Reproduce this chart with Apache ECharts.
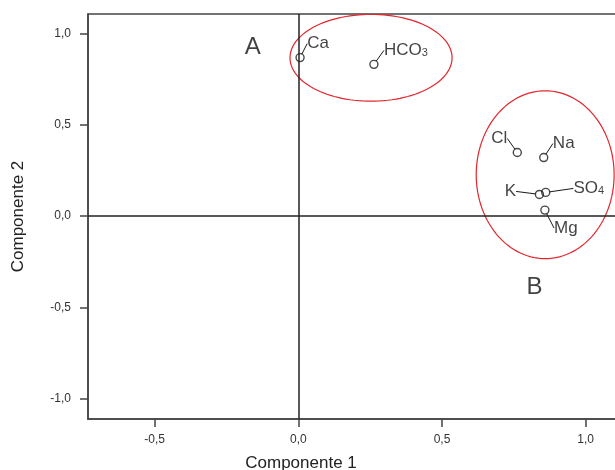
<!DOCTYPE html>
<html>
<head>
<meta charset="utf-8">
<script src="https://cdn.jsdelivr.net/npm/echarts@6/dist/echarts.min.js"></script>
<style>html,body{margin:0;padding:0;background:#fff;}#c{width:615px;height:470px;}</style>
</head>
<body>
<div id="c"></div>
<script>
// ---- data ----
const categories = ['Ca', 'HCO3', 'Cl', 'Na', 'K', 'SO4', 'Mg'];
const comp1 = [0.006, 0.263, 0.762, 0.854, 0.839, 0.861, 0.858];
const comp2 = [0.869, 0.832, 0.349, 0.321, 0.119, 0.130, 0.033];
const xTicks = [-0.5, 0.0, 0.5, 1.0];
const yTicks = [-1.0, -0.5, 0.0, 0.5, 1.0];
const groupNames = ['A', 'B'];
const groupX = [-0.159, 0.822];
const groupY = [0.925, -0.389];
const ellipseCx = [0.253, 0.859];
const ellipseCy = [0.868, 0.227];
const ellipseRx = [0.282, 0.240];
const ellipseRy = [0.238, 0.460];

// ---- layout (pixel offsets of labels) ----
const labelOffsets = {
  Ca: [18, -14], HCO3: [32, -14], Cl: [-18, -14], Na: [20, -14],
  K: [-29, -3], SO4: [43, -4], Mg: [21, 18]
};

const FONT = '"Liberation Sans", Arial, Helvetica, sans-serif';
const fmt = v => (Math.abs(v) < 1e-9 ? '0,0' : v.toFixed(1).replace('.', ','));
const richName = n => {
  if (n === 'HCO3') return '{m|HCO}{s|3}';
  if (n === 'SO4') return '{m|SO}{s|4}';
  return '{m|' + n + '}';
};

const chart = echarts.init(document.getElementById('c'));
const axisColor = '#444';
chart.setOption({
  animation: false,
  backgroundColor: '#fff',
  textStyle: { fontFamily: FONT },
  grid: { left: 88, top: 14, right: -2, bottom: 51, show: true, borderColor: axisColor, borderWidth: 1.5, containLabel: false, outerBoundsMode: 'none' },
  xAxis: {
    type: 'value', min: -0.732, max: 1.109,
    name: 'Componente 1', nameLocation: 'middle', nameGap: 36,
    nameTextStyle: { fontSize: 17, color: '#222', fontFamily: FONT, padding: [0, 103, 0, 0] },
    axisLine: { show: true, onZero: false, lineStyle: { color: axisColor, width: 1.5 } },
    axisTick: { show: true, inside: false, length: 8, customValues: xTicks, lineStyle: { color: axisColor, width: 1.5 } },
    axisLabel: { customValues: xTicks, formatter: fmt, fontSize: 12, color: '#333', margin: 15, fontFamily: FONT },
    splitLine: { show: false }
  },
  yAxis: {
    type: 'value', min: -1.112, max: 1.108,
    name: 'Componente 2', nameLocation: 'middle', nameGap: 61,
    nameTextStyle: { fontSize: 17, color: '#222', fontFamily: FONT },
    axisLine: { show: true, onZero: false, lineStyle: { color: axisColor, width: 1.5 } },
    axisTick: { show: true, inside: false, length: 8, customValues: yTicks, lineStyle: { color: axisColor, width: 1.5 } },
    axisLabel: { customValues: yTicks, formatter: fmt, fontSize: 12, color: '#333', margin: 17, fontFamily: FONT },
    splitLine: { show: false }
  },
  series: [
    {
      type: 'custom',
      silent: true,
      clip: true,
      data: ellipseCx.map((cx, i) => [cx, ellipseCy[i], ellipseRx[i], ellipseRy[i]]),
      renderItem: function (params, api) {
        const cx = api.value(0), cy = api.value(1), rx = api.value(2), ry = api.value(3);
        const pts = [];
        for (let k = 0; k <= 120; k++) {
          const t = k / 120 * Math.PI * 2;
          pts.push(api.coord([cx + rx * Math.cos(t), cy + ry * Math.sin(t)]));
        }
        return { type: 'polyline', shape: { points: pts }, style: { stroke: '#e3262c', lineWidth: 1.2, fill: null } };
      },
      z: 1
    },
    {
      type: 'scatter',
      silent: true,
      symbolSize: 0,
      data: groupNames.map((n, i) => ({ name: n, value: [groupX[i], groupY[i]] })),
      label: { show: true, position: 'inside', formatter: p => p.name, fontSize: 24, color: '#111', fontFamily: FONT },
      z: 2
    },
    {
      type: 'scatter',
      symbol: 'circle',
      symbolSize: 8,
      itemStyle: { color: 'rgba(255,255,255,0)', borderColor: '#1a1a1a', borderWidth: 1.4 },
      data: categories.map((n, i) => ({ name: n, value: [comp1[i], comp2[i]] })),
      label: {
        show: true, position: 'inside', formatter: p => richName(p.name),
        color: '#111', fontFamily: FONT,
        rich: {
          m: { fontSize: 17, color: '#111', fontFamily: FONT },
          s: { fontSize: 11, color: '#111', fontFamily: FONT, verticalAlign: 'bottom' }
        }
      },
      labelLine: { show: true, lineStyle: { color: '#1a1a1a', width: 1 } },
      labelLayout: function (params) {
        const o = labelOffsets[categories[params.dataIndex]];
        return { dx: o[0], dy: o[1] };
      },
      markLine: {
        silent: true, symbol: ['none', 'none'], label: { show: false },
        lineStyle: { color: '#222', width: 1.5, type: 'solid' },
        data: [{ xAxis: 0 }, { yAxis: 0 }]
      },
      z: 3
    }
  ]
});
</script>
</body>
</html>
